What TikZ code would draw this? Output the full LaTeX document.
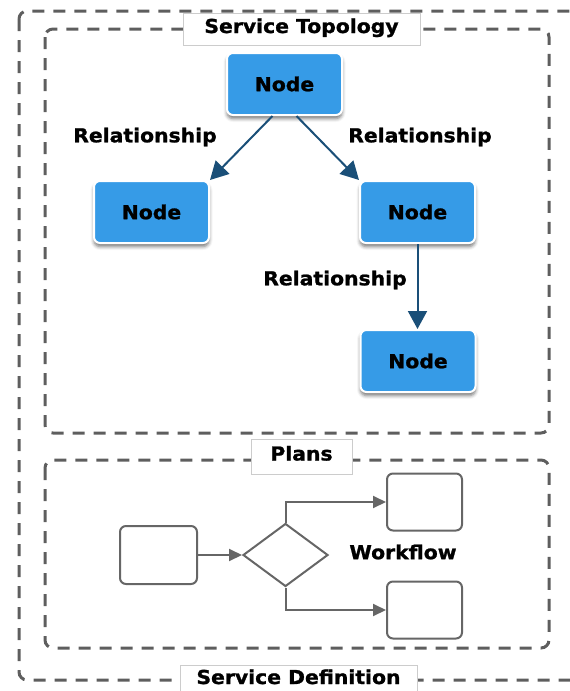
\documentclass[tikz,border=0pt]{standalone}
\usepackage{fontspec}
\usetikzlibrary{arrows.meta,shapes.geometric,shadows.blur}
\newfontfamily\lblfont{DejaVu Sans Bold}[FakeStretch=1.06,FakeBold=1.2]
\definecolor{nodeblue}{HTML}{369BE7}
\definecolor{linkblue}{HTML}{1A4F78}
\definecolor{framegray}{HTML}{5E5E5E}
\definecolor{flowgray}{HTML}{666666}
\definecolor{tagline}{HTML}{CCCCCC}

\begin{document}
\begin{tikzpicture}[x=1pt,y=-1pt,
  lbl/.style={font=\lblfont\fontsize{19.2}{23}\selectfont, text=black, inner sep=0pt},
  svc/.style={lbl, rectangle, rounded corners=6pt, fill=nodeblue, draw=white,
    line width=2pt, minimum width=115pt, minimum height=62pt,
    blur shadow={shadow xshift=0pt, shadow yshift=-3.5pt, shadow blur radius=3.5pt, shadow opacity=55}},
  rel/.style={draw=linkblue, line width=2pt, -{Triangle[length=18pt,width=19pt]}},
  zone/.style={draw=framegray, line width=3pt, dash pattern=on 12pt off 9pt, rounded corners=8pt},
  tag/.style={lbl, fill=white, draw=tagline, line width=0.8pt},
  stepbox/.style={draw=flowgray, line width=2pt, rounded corners=6pt, fill=white,
    minimum width=75pt, minimum height=57pt, inner sep=0pt},
  flowarrow/.style={draw=flowgray, line width=2pt, -{Triangle[length=13pt,width=12pt]}}
]
\useasboundingbox (0,0) rectangle (570,691);
\clip (0,0) rectangle (570,691);

% dashed containers
\draw[zone] (19,11) rectangle (590,680);
\draw[zone] (45,29) rectangle (549,433);
\draw[zone] (45,460) rectangle (549,648);

% container titles
\node[tag, minimum width=237pt, text height=20pt, text depth=12pt] (ttopo) at (301.5,29) {Service Topology};
\node[tag, minimum width=101pt, text height=21.5pt, text depth=13.5pt] (tplans) at (301.5,456.5) {Plans};
\node[tag, minimum width=237pt, text height=19pt, text depth=16pt] (tdef) at (298.5,682.5) {Service Definition};

% service topology
\node[svc] (root) at (284.5,84) {Node};
\node[svc] (left) at (151.5,212) {Node};
\node[svc] (right) at (417.5,212) {Node};
\node[svc] (leaf) at (418,361) {Node};

\draw[rel] ([xshift=-12pt]root.south) -- (left.north east);
\draw[rel] ([xshift=12pt]root.south) -- (right.north west);
\draw[rel] (right.south) -- (right.south |- leaf.north);

\node[lbl] (rel1) at (145,137) {Relationship};
\node[lbl] (rel2) at (420,137) {Relationship};
\node[lbl] (rel3) at (335,280) {Relationship};

% workflow
\node[stepbox, minimum width=77pt, minimum height=58pt] (start) at (158.5,555) {};
\node[diamond, aspect=1.35, draw=flowgray, line width=2pt, fill=white, inner sep=0pt,
  minimum width=85pt, minimum height=63pt] (choice) at (285.5,555) {};
\node[stepbox] (upper) at (424.5,502) {};
\node[stepbox] (lower) at (424.5,610) {};

\draw[flowarrow] (start.east) -- (choice.west);
\draw[flowarrow] (choice.north) |- (upper.west);
\draw[flowarrow] (choice.south) |- (lower.west);

\node[lbl] (wf) at (403,552) {Workflow};
\end{tikzpicture}
\end{document}
